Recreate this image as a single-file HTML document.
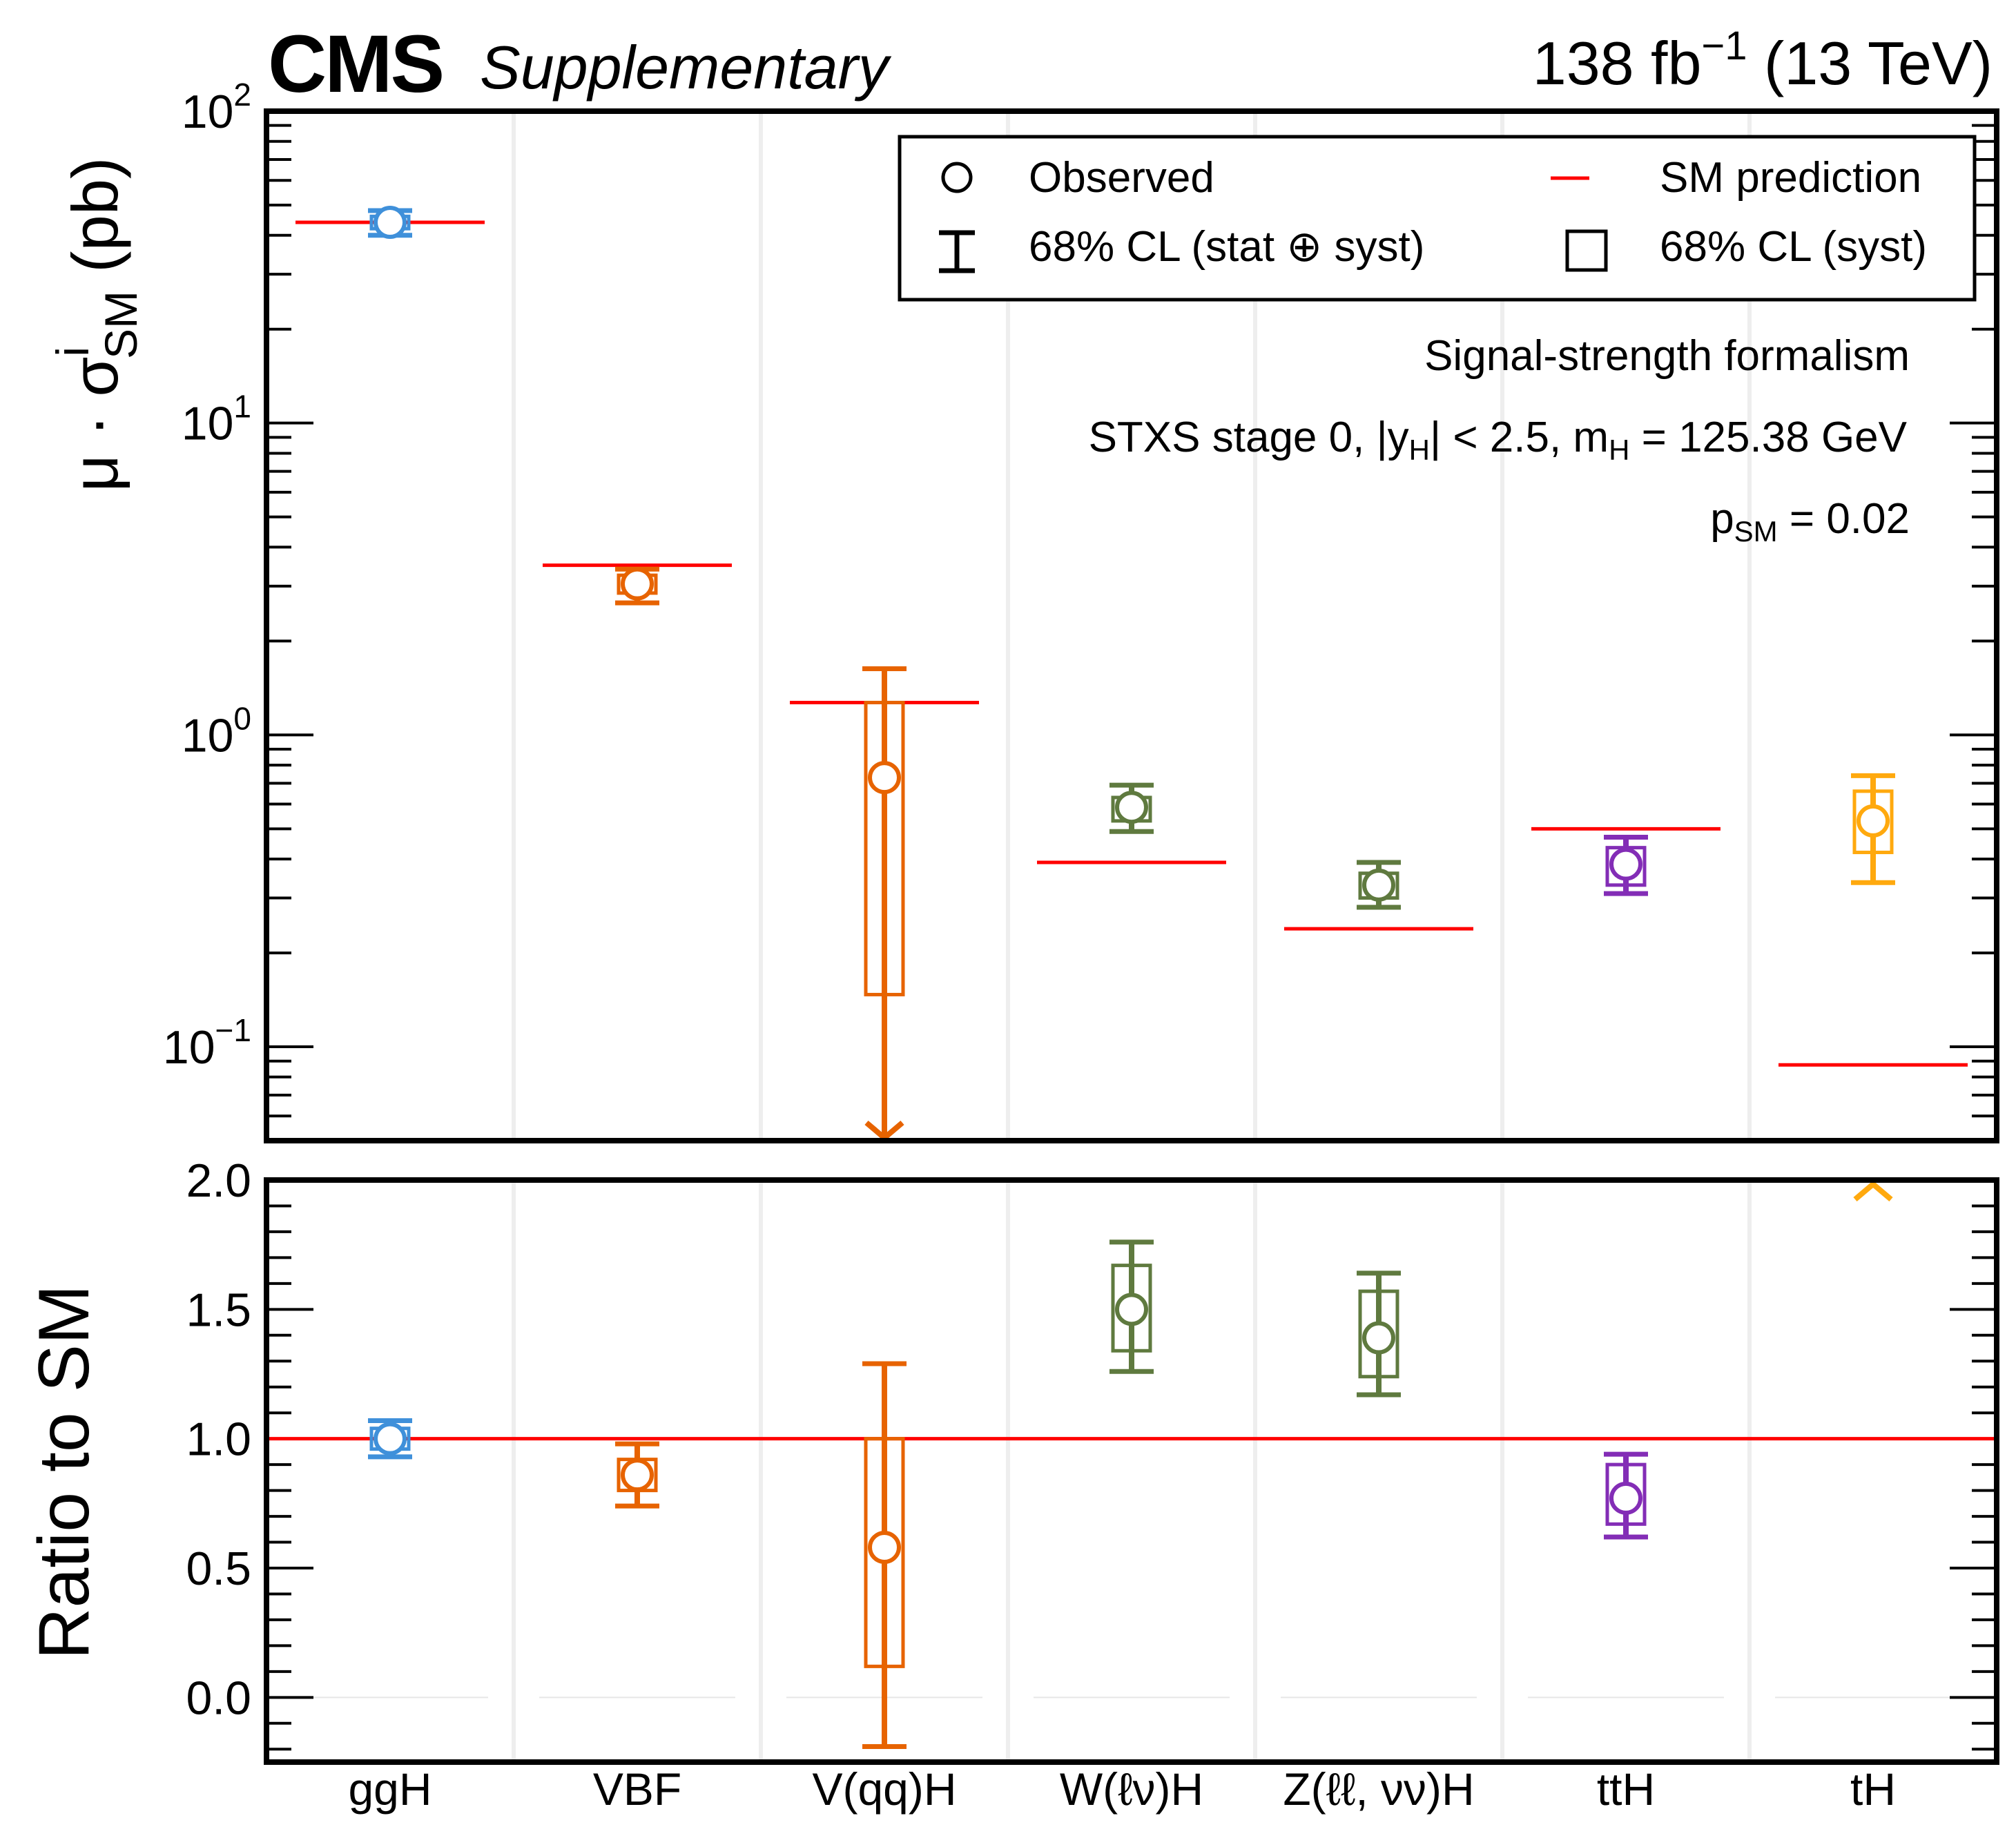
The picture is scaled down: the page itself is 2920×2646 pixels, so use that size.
<!DOCTYPE html>
<html><head><meta charset="utf-8">
<style>
html,body{margin:0;padding:0;background:#fff;}
svg{display:block;}
text{font-family:"Liberation Sans",sans-serif;}
</style></head>
<body>
<svg id="chart" xmlns="http://www.w3.org/2000/svg" width="2920" height="2646" viewBox="0 0 2920 2646">
<rect width="2920" height="2646" fill="#fff"/>
<g id="g"></g>
<text x="388" y="133" font-size="118" font-weight="bold" letter-spacing="-3">CMS</text>
<text x="695" y="128" font-size="88" font-style="italic">Supplementary</text>
<text x="2886" y="122" font-size="88" text-anchor="end">138 fb<tspan font-size="58" dy="-36">−1</tspan><tspan dy="36"> (13 TeV)</tspan></text>
<text transform="translate(170,470) rotate(-90)" font-size="94" text-anchor="middle">μ · σ<tspan font-size="66" dy="-42">i</tspan><tspan font-size="66" dy="70" dx="-18">SM</tspan><tspan dy="-28"> (pb)</tspan></text>
<text transform="translate(128,2132) rotate(-90)" font-size="104" text-anchor="middle">Ratio to SM</text>
<g>
<rect x="1303" y="198" width="1557" height="236" fill="#fff" stroke="#000" stroke-width="5"/>
<circle cx="1386" cy="257" r="20" fill="#fff" stroke="#000" stroke-width="5"/>
<text x="1490" y="278" font-size="62">Observed</text>
<path d="M1386 337V392M1360 337H1412M1360 392H1412" stroke="#000" stroke-width="7" fill="none"/>
<text x="1490" y="378" font-size="62">68% CL (stat ⊕ syst)</text>
<line x1="2246" y1="258" x2="2302" y2="258" stroke="#f00" stroke-width="5"/>
<text x="2404" y="278" font-size="62">SM prediction</text>
<rect x="2270" y="335" width="56" height="56" fill="none" stroke="#000" stroke-width="5"/>
<text x="2404" y="378" font-size="62">68% CL (syst)</text>
</g>
<text x="2766" y="536" font-size="62" text-anchor="end">Signal-strength formalism</text>
<text x="2762" y="654" font-size="62" text-anchor="end">STXS stage 0, |y<tspan font-size="42" dy="12">H</tspan><tspan dy="-12">| &lt; 2.5, m</tspan><tspan font-size="42" dy="12">H</tspan><tspan dy="-12"> = 125.38 GeV</tspan></text>
<text x="2766" y="772" font-size="62" text-anchor="end">p<tspan font-size="42" dy="12">SM</tspan><tspan dy="-12"> = 0.02</tspan></text>
</svg>
<script>
const categories = ["ggH","VBF","V(qq)H","W(ℓν)H","Z(ℓℓ, νν)H","ttH","tH"];
const colors = ["#3f90da","#e76300","#e76300","#5f7a3f","#5f7a3f","#832db6","#ffa90e"];
const smXsec = [44, 3.5, 1.27, 0.39, 0.239, 0.50, 0.0875];
const obsXsec = [44, 3.05, 0.73, 0.586, 0.33, 0.385, 0.53];
const totHiXsec = [48, 3.4, 1.63, 0.69, 0.39, 0.47, 0.74];
const totLoXsec = [40, 2.65, 0.001, 0.49, 0.28, 0.31, 0.336];
const sysHiXsec = [46, 3.25, 1.27, 0.63, 0.36, 0.435, 0.66];
const sysLoXsec = [42, 2.85, 0.147, 0.53, 0.30, 0.33, 0.42];
const obsRatio = [1.0, 0.86, 0.58, 1.50, 1.39, 0.77, 6.1];
const totHiRatio = [1.07, 0.98, 1.29, 1.76, 1.64, 0.94, 8.5];
const totLoRatio = [0.93, 0.74, -0.19, 1.26, 1.17, 0.62, 3.8];
const sysHiRatio = [1.04, 0.92, 1.0, 1.67, 1.57, 0.90, 7.5];
const sysLoRatio = [0.96, 0.80, 0.12, 1.34, 1.24, 0.67, 4.5];
const upperTicks = ["2","1","0","−1"];
const upperTickVals = [2,1,0,-1];
const lowerTickVals = [2.0,1.5,1.0,0.5,0.0];
const lowerTickLabels = ["2.0","1.5","1.0","0.5","0.0"];

const L=386,R=2892,UT=161,UB=1652,LT=1709,LB=2552;
const yMinU=Math.log10(0.05), yMaxU=2, rMin=-0.25, rMax=2.0;
const X=i=>L+(i+0.5)*(R-L)/7;
const YU=v=>UT+(yMaxU-Math.log10(v))/(yMaxU-yMinU)*(UB-UT);
const YL=v=>LT+(rMax-v)/(rMax-rMin)*(LB-LT);
const g=document.getElementById('g');
const NS="http://www.w3.org/2000/svg";
function mk(tag,attrs,parent){const e=document.createElementNS(NS,tag);for(const k in attrs)e.setAttribute(k,attrs[k]);(parent||g).appendChild(e);return e;}

for(let i=1;i<7;i++){
  const xs=L+i*(R-L)/7;
  const s1=mk('line',{x1:xs,y1:UT,x2:xs,y2:UB,stroke:'#eeeeee','stroke-width':6});
  
  
  const s2=mk('line',{x1:xs,y1:LT,x2:xs,y2:LB,stroke:'#eeeeee','stroke-width':6});
  
  
}
for(let i=0;i<7;i++){
  const z=mk('line',{x1:X(i)-142,y1:YL(0),x2:X(i)+142,y2:YL(0),stroke:'#e6e6e6','stroke-width':2});
  
  
}

// ticks
for(let d=-2;d<=1;d++){
  for(let m=1;m<10;m++){
    const v=m*Math.pow(10,d);
    if(v<0.05||v>100)continue;
    const y=YU(v), len=m===1?68:36;
    const t1=mk('line',{x1:L,y1:y,x2:L+len,y2:y,stroke:'#000','stroke-width':4});
    
    
    const t2=mk('line',{x1:R-len,y1:y,x2:R,y2:y,stroke:'#000','stroke-width':4});
    
    
  }
}
for(let k=-2;k<=20;k++){
  const v=k/10;
  if(v<rMin||v>rMax)continue;
  const y=YL(v), len=(k%5===0)?68:36;
  const t1=mk('line',{x1:L,y1:y,x2:L+len,y2:y,stroke:'#000','stroke-width':4});
  
  
  const t2=mk('line',{x1:R-len,y1:y,x2:R,y2:y,stroke:'#000','stroke-width':4});
  
  
}

const smr=mk('line',{x1:L,y1:YL(1),x2:R,y2:YL(1),stroke:'#ff0000','stroke-width':5});



function clampU(v){return Math.min(UB,Math.max(UT,YU(Math.max(v,1e-6))));}
function clampL(v){return Math.min(LB,Math.max(LT,YL(v)));}

for(let i=0;i<7;i++){
  const c=colors[i], x=X(i);
  const sm=mk('line',{x1:x-137,y1:YU(smXsec[i]),x2:x+137,y2:YU(smXsec[i]),stroke:'#ff0000','stroke-width':5});
  
  
  const gu=mk('g',{});
  
  
  const yb1=clampU(sysHiXsec[i]), yb2=clampU(sysLoXsec[i]);
  mk('rect',{x:x-27,y:yb1,width:54,height:yb2-yb1,fill:'none',stroke:c,'stroke-width':5},gu);
  const yh=clampU(totHiXsec[i]), yl=clampU(totLoXsec[i]);
  mk('line',{x1:x,y1:yh,x2:x,y2:yl,stroke:c,'stroke-width':8},gu);
  mk('line',{x1:x-32,y1:yh,x2:x+32,y2:yh,stroke:c,'stroke-width':7},gu);
  if(YU(Math.max(totLoXsec[i],1e-6))>UB){
    mk('path',{d:`M${x-26} ${UB-26}L${x} ${UB-4}L${x+26} ${UB-26}`,stroke:c,'stroke-width':8,fill:'none'},gu);
  } else mk('line',{x1:x-32,y1:yl,x2:x+32,y2:yl,stroke:c,'stroke-width':7},gu);
  mk('circle',{cx:x,cy:YU(obsXsec[i]),r:21,fill:'#fff',stroke:c,'stroke-width':6},gu);
  const gl=mk('g',{});
  
  
  if(obsRatio[i]>rMax){
    mk('path',{d:`M${x-26} ${LT+28}L${x} ${LT+6}L${x+26} ${LT+28}`,stroke:c,'stroke-width':8,fill:'none'},gl);
    continue;
  }
  const rb1=clampL(sysHiRatio[i]), rb2=clampL(sysLoRatio[i]);
  mk('rect',{x:x-27,y:rb1,width:54,height:rb2-rb1,fill:'none',stroke:c,'stroke-width':5},gl);
  const rh=clampL(totHiRatio[i]), rl=clampL(totLoRatio[i]);
  mk('line',{x1:x,y1:rh,x2:x,y2:rl,stroke:c,'stroke-width':8},gl);
  mk('line',{x1:x-32,y1:rh,x2:x+32,y2:rh,stroke:c,'stroke-width':7},gl);
  mk('line',{x1:x-32,y1:rl,x2:x+32,y2:rl,stroke:c,'stroke-width':7},gl);
  mk('circle',{cx:x,cy:YL(obsRatio[i]),r:21,fill:'#fff',stroke:c,'stroke-width':6},gl);
}

const f1=mk('rect',{x:L,y:UT,width:R-L,height:UB-UT,fill:'none',stroke:'#000','stroke-width':8});


const f2=mk('rect',{x:L,y:LT,width:R-L,height:LB-LT,fill:'none',stroke:'#000','stroke-width':8});



upperTickVals.forEach((p,k)=>{
  const y=YU(Math.pow(10,p));
  const t=mk('text',{x:L-22,y:y+24,'font-size':68,'text-anchor':'end'});
  
  
  t.textContent='10';
  const s=mk('tspan',{'font-size':46,dy:-32},t); s.textContent=upperTicks[k];
});
lowerTickVals.forEach((v,k)=>{
  const t=mk('text',{x:L-22,y:YL(v)+24,'font-size':68,'text-anchor':'end'});
  
  
  t.textContent=lowerTickLabels[k];
});
categories.forEach((c,i)=>{
  const t=mk('text',{x:X(i),y:2644-30,'font-size':66,'text-anchor':'middle'});
  
  
  t.textContent=c;
});
</script>
</body></html>
